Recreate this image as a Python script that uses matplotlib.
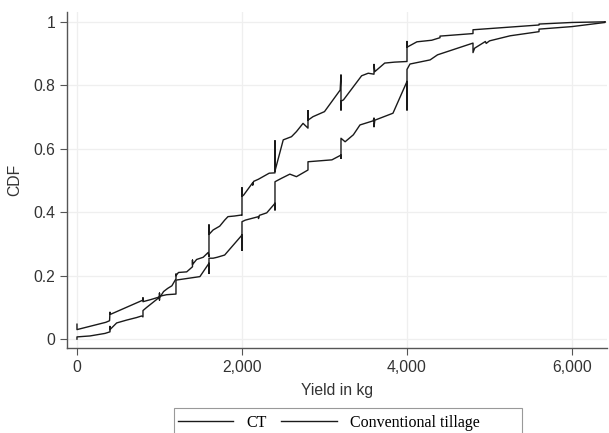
import matplotlib
matplotlib.use("Agg")
import matplotlib.pyplot as plt
from matplotlib.ticker import FuncFormatter
from matplotlib.patches import Rectangle

# upper curve (ties drawn as zigzags)
ct_x = [0, 0, 350, 395, 400, 405, 800, 800, 800, 900, 1000, 1000, 1000,
        1050, 1100, 1150, 1200, 1200, 1200, 1230, 1330, 1400, 1400, 1400,
        1450, 1530, 1590, 1600, 1600, 1600, 1650, 1730, 1790, 1830, 1910, 1990,
        2000, 2000, 2000, 2020, 2130, 2130, 2140, 2200, 2330, 2400, 2400, 2400,
        2500, 2600, 2660, 2740, 2800, 2800, 2800, 2860, 3000, 3190, 3200, 3200, 3200,
        3230, 3450, 3530, 3600, 3600, 3610, 3730, 3850, 4000, 4000, 4000,
        4120, 4300, 4400, 4400, 4800, 4800, 5600, 5600, 6000, 6400]
ct_y = [0.047, 0.03, 0.053, 0.058, 0.085, 0.078, 0.123, 0.13, 0.118, 0.125, 0.133, 0.145, 0.13,
        0.15, 0.16, 0.168, 0.19, 0.205, 0.2, 0.21, 0.212, 0.228, 0.249, 0.235,
        0.251, 0.258, 0.273, 0.26, 0.36, 0.33, 0.344, 0.356, 0.375, 0.386, 0.388, 0.391,
        0.39, 0.477, 0.45, 0.454, 0.493, 0.485, 0.497, 0.504, 0.523, 0.524, 0.625, 0.53,
        0.628, 0.638, 0.654, 0.68, 0.665, 0.72, 0.69, 0.701, 0.717, 0.785, 0.833, 0.722, 0.75,
        0.754, 0.83, 0.838, 0.835, 0.866, 0.843, 0.87, 0.873, 0.875, 0.938, 0.92,
        0.937, 0.942, 0.95, 0.955, 0.963, 0.975, 0.99, 0.993, 0.998, 1.0]

# lower curve
conv_x = [0, 0, 158, 340, 400, 400, 400, 481, 602, 723, 784, 800, 800,
          845, 966, 1000, 1000, 1000, 1087, 1200, 1200, 1200, 1490, 1600, 1600, 1600,
          1650, 1700, 1790, 2000, 2000, 2000, 2040, 2200, 2200, 2210, 2300,
          2400, 2400, 2400, 2480, 2580, 2660, 2800, 2800, 3090, 3200, 3200, 3200,
          3250, 3350, 3430, 3590, 3600, 3600, 3610, 3830, 4000, 4000, 4000,
          4036, 4280, 4370, 4800, 4800, 4820, 4950, 4960, 5000, 5250, 5600, 5600,
          6000, 6400, 6400]
conv_y = [0.0, 0.007, 0.010, 0.018, 0.023, 0.04, 0.03, 0.051, 0.060, 0.068, 0.073, 0.07, 0.09,
          0.10, 0.125, 0.133, 0.123, 0.135, 0.14, 0.142, 0.15, 0.186, 0.197, 0.239, 0.207, 0.255,
          0.255, 0.258, 0.265, 0.328, 0.28, 0.37, 0.375, 0.386, 0.38, 0.39, 0.398,
          0.428, 0.407, 0.496, 0.507, 0.52, 0.512, 0.533, 0.559, 0.565, 0.58, 0.57, 0.633,
          0.622, 0.644, 0.675, 0.688, 0.697, 0.669, 0.69, 0.712, 0.812, 0.722, 0.85,
          0.867, 0.88, 0.896, 0.933, 0.903, 0.917, 0.938, 0.932, 0.94, 0.956, 0.969, 0.977,
          0.985, 0.998, 1.0]

x_ticks = [0, 2000, 4000, 6000]
y_ticks = [0, 0.2, 0.4, 0.6, 0.8, 1]

fig = plt.figure(figsize=(6.09, 4.33), dpi=100)
ax = fig.add_axes([0.110, 0.1963, 0.8867, 0.776])

ax.plot(ct_x, ct_y, color="#1a1a1a", lw=1.0, label="CT")
ax.plot(conv_x, conv_y, color="#1a1a1a", lw=1.0, label="Conventional tillage")

ax.set_xlim(-121, 6424)
ax.set_ylim(-0.028, 1.031)
ax.set_xticks(x_ticks)
ax.set_yticks(y_ticks)
ax.xaxis.set_major_formatter(FuncFormatter(lambda v, p: f"{int(v):,}"))
ax.yaxis.set_major_formatter(FuncFormatter(lambda v, p: f"{v:g}"))
ax.grid(True, color="#efefef", lw=0.9)
ax.set_axisbelow(True)

for s in ["top", "right"]:
    ax.spines[s].set_visible(False)
for s in ["left", "bottom"]:
    ax.spines[s].set_color("#555555")
    ax.spines[s].set_linewidth(1.0)
ax.tick_params(colors="#555555", labelcolor="#333333", length=5, width=0.8,
               labelsize=11.3)
for lab in ax.get_xticklabels() + ax.get_yticklabels():
    lab.set_family("Liberation Sans")

ax.set_xlabel("Yield in kg", family="Liberation Sans", fontsize=11.3, color="#333333", labelpad=6)
ax.set_ylabel("CDF", family="Liberation Sans", fontsize=11.3, color="#333333", labelpad=8)

# legend box drawn separately (wide right padding like the original)
fig.patches.append(Rectangle((174 / 609, -0.02), (522 - 174) / 609, 25 / 433 + 0.02,
                             transform=fig.transFigure, fill=False,
                             edgecolor="#999999", lw=0.8))
fig.legend(loc="center left", bbox_to_anchor=(178 / 609, 1 - 423 / 433), ncol=2,
           prop={"family": "Liberation Serif", "size": 11.5},
           frameon=False, handlelength=3.45, handletextpad=0.85,
           columnspacing=0.9, borderpad=0, borderaxespad=0)

fig.savefig("out.png", dpi=100)
